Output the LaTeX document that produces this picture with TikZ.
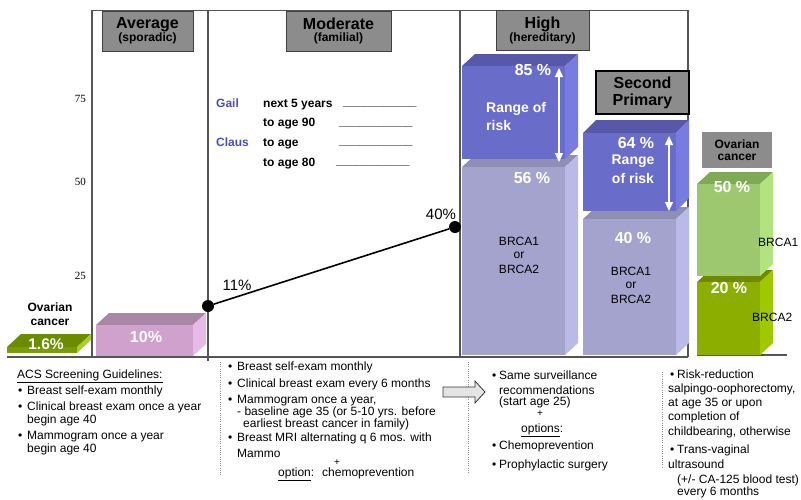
\documentclass[tikz,border=0pt]{standalone}
\usepackage{fontspec}
\setmainfont{Liberation Sans}
\newfontfamily\axisfont{Liberation Serif}
\usetikzlibrary{arrows.meta}
\definecolor{hdrgray}{HTML}{8C8C8C}
\definecolor{framec}{HTML}{555555}
\definecolor{pinkF}{HTML}{CFA1CC}
\definecolor{pinkT}{HTML}{A886A6}
\definecolor{pinkS}{HTML}{E6B9E6}
\definecolor{blueF}{HTML}{6A6CCA}
\definecolor{blueT}{HTML}{5759A8}
\definecolor{blueS}{HTML}{787BE0}
\definecolor{lavF}{HTML}{A3A3CD}
\definecolor{lavT}{HTML}{8F8FB5}
\definecolor{lavS}{HTML}{BABAE8}
\definecolor{lgF}{HTML}{9DC870}
\definecolor{lgT}{HTML}{7EAA55}
\definecolor{lgS}{HTML}{B2E37F}
\definecolor{dgF}{HTML}{8BAE00}
\definecolor{dgT}{HTML}{6D8A00}
\definecolor{dgS}{HTML}{A0C800}
\definecolor{ogF}{HTML}{7A9A08}
\definecolor{ogT}{HTML}{6B8C00}
\definecolor{ogS}{HTML}{A5CF2A}
\definecolor{gailc}{HTML}{4B4FB4}
\definecolor{arrowgray}{HTML}{E4E4E4}
\newcommand\cuboid[9]{%
  \fill[#8] (#1,#2) -- (#3,#2) -- ++(#5,-#6) -- ++({#1-#3},0) -- cycle;
  \fill[#9] (#3,#2) -- ++(#5,-#6) -- ++(0,{#4-#2}) -- (#3,#4) -- cycle;
  \fill[#7] (#1,#2) rectangle (#3,#4);}
\newcommand\bt[4]{\node[btxt] (#1) at (#2,#3) {#4};}
\newcommand\gt[4]{\node[gtxt] (#1) at (#2,#3) {#4};}
\newcommand\blt{\makebox[9pt][l]{•}}
\newcommand\bls{\makebox[7pt][l]{•}}
\begin{document}
\begin{tikzpicture}[x=1pt,y=-1pt,
  frame/.style={draw=framec,line width=1.1pt},
  hdr/.style={draw=black!75,fill=hdrgray,line width=0.8pt,inner sep=0pt,align=center,font=\bfseries},
  wnum/.style={text=white,font=\bfseries\fontsize{16}{16}\selectfont,anchor=base,inner sep=0pt},
  wtxt/.style={text=white,font=\bfseries\fontsize{14}{14}\selectfont,anchor=base west,inner sep=0pt},
  wtxtc/.style={text=white,font=\bfseries\fontsize{14}{14}\selectfont,anchor=base,inner sep=0pt},
  brca/.style={font=\fontsize{12}{13}\selectfont,anchor=base,inner sep=0pt},
  btxt/.style={font=\fontsize{12}{13}\selectfont,anchor=base west,inner sep=0pt},
  gtxt/.style={font=\bfseries\fontsize{12}{13}\selectfont,anchor=base west,inner sep=0pt},
  axl/.style={font=\axisfont\fontsize{11}{11}\selectfont,anchor=base east,inner sep=0pt},
  dot/.style={circle,fill=black,inner sep=0pt,minimum size=12pt},
  wa/.style={draw=white,line width=1.3pt,{Triangle[width=8pt,length=9pt]}-{Triangle[width=8pt,length=9pt]}},
  dotl/.style={draw=black!45,line width=0.7pt,dash pattern=on 1pt off 1.2pt}]
\useasboundingbox (0,0) rectangle (801,499);

% frame
\draw[frame] (92,357) -- (92,10.5) -- (688,10.5) -- (688,357);
\draw[frame] (7,357) -- (688,357);
\draw[frame] (208,10.5) -- (208,361);
\draw[frame] (460,10.5) -- (460,357);
\draw[frame] (697,355) -- (787,355);

% axis labels
\node[axl] (y75) at (86,102) {75};
\node[axl] (y50) at (86,185) {50};
\node[axl] (y25) at (86,279) {25};

% headers
\node[hdr,minimum width=91pt,minimum height=40pt] (hAvg) at (147.5,31)
  {\fontsize{16}{16}\selectfont Average\\\fontsize{12}{14}\selectfont (sporadic)};
\node[hdr,minimum width=105pt,minimum height=40pt] (hMod) at (338.5,31)
  {\fontsize{16}{16}\selectfont Moderate\\\fontsize{12}{14}\selectfont (familial)};

% bars
\cuboid{7}{347}{77}{353}{14}{13}{ogF}{ogT}{ogS}
\cuboid{96}{325}{193}{356}{13}{12}{pinkF}{pinkT}{pinkS}
\cuboid{462}{167}{565}{355}{13}{12}{lavF}{lavT}{lavS}
\cuboid{462}{66}{565}{159}{13}{12}{blueF}{blueT}{blueS}
\cuboid{583}{219}{676}{355}{13}{12}{lavF}{lavT}{lavS}
\cuboid{583}{133}{676}{211}{13}{13}{blueF}{blueT}{blueS}
\cuboid{697}{282}{760}{355}{13}{12}{dgF}{dgT}{dgS}
\cuboid{697}{184}{760}{276}{13}{12}{lgF}{lgT}{lgS}

\node[hdr,minimum width=93pt,minimum height=40pt] (hHigh) at (542.5,30)
  {\fontsize{16}{16}\selectfont High\\\fontsize{12}{13}\selectfont (hereditary)};
\node[hdr,line width=1.2pt,draw=black,minimum width=93pt,minimum height=43pt,
  font=\bfseries\fontsize{16}{17}\selectfont] (hSec) at (642.5,92.5)
  {Second\\Primary};
\node[hdr,draw=none,minimum width=70pt,minimum height=36pt,
  font=\bfseries\fontsize{12}{12.5}\selectfont] (hOv) at (737,150)
  {Ovarian\\cancer};

% left ovarian label
\node[font=\bfseries\fontsize{12}{13}\selectfont,anchor=base,inner sep=0pt] (ovl1) at (50,311.5) {Ovarian};
\node[font=\bfseries\fontsize{12}{13}\selectfont,anchor=base,inner sep=0pt] (ovl2) at (50,325) {cancer};

% numbers in bars
\node[wnum,font=\bfseries\fontsize{15.5}{16}\selectfont] (n16) at (46,349) {1.6\%};
\node[wnum] (n10) at (146,342) {10\%};
\node[wnum] (n85) at (533,75) {85 \%};
\node[wnum] (n56) at (532,183) {56 \%};
\node[wnum] (n64) at (636,148) {64 \%};
\node[wnum] (n40b) at (633,243) {40 \%};
\node[wnum] (n50) at (732,192) {50 \%};
\node[wnum] (n20) at (729,293) {20 \%};
\node[wtxt] (rr1) at (486,112.5) {Range of};
\node[wtxt] (rr2) at (486,130) {risk};
\node[wtxtc] (rs1) at (633,164) {Range};
\node[wtxtc] (rs2) at (633,183) {of risk};

% white arrows
\coordinate (a1t) at (559,68);
\coordinate (a1b) at (559,162);
\coordinate (a2t) at (669,136);
\coordinate (a2b) at (669,211);
\draw[wa] (a1t) -- (a1b);
\draw[wa] (a2t) -- (a2b);

% BRCA labels
\node[brca] (hb1) at (519,245) {BRCA1};
\node[brca] (hb2) at (519,258) {or};
\node[brca] (hb3) at (519,273) {BRCA2};
\node[brca] (sb1) at (631,275) {BRCA1};
\node[brca] (sb2) at (631,288) {or};
\node[brca] (sb3) at (631,303) {BRCA2};
\node[btxt] (gb1) at (758,246) {BRCA1};
\node[btxt] (gb2) at (752,321) {BRCA2};

% risk line
\node[dot] (p11) at (208,306) {};
\node[dot] (p40) at (455,227) {};
\draw[line width=1.6pt] (p11) -- (p40);
\node[font=\fontsize{15}{15}\selectfont,inner sep=0pt] (l11) at (237,285) {11\%};
\node[font=\fontsize{15}{15}\selectfont,inner sep=0pt] (l40) at (441,214) {40\%};

% Gail / Claus
\node[gtxt,text=gailc] (gail) at (216,107) {Gail};
\node[gtxt,text=gailc] (claus) at (216,146) {Claus};
\gt{g1}{263}{107}{next 5 years}
\gt{g2}{263}{126}{to age 90}
\gt{g3}{263}{146}{to age}
\gt{g4}{263}{166}{to age 80}
\gt{u1}{343}{105.5}{\_\_\_\_\_\_\_\_\_\_\_}
\gt{u2}{339}{125}{\_\_\_\_\_\_\_\_\_\_\_}
\gt{u3}{339}{144.5}{\_\_\_\_\_\_\_\_\_\_\_}
\gt{u4}{336}{164.5}{\_\_\_\_\_\_\_\_\_\_\_}

% dotted separators
\coordinate (d1t) at (220,362); \coordinate (d1b) at (220,475);
\coordinate (d2t) at (468,362); \coordinate (d2b) at (468,474);
\coordinate (d3t) at (662,372); \coordinate (d3b) at (662,467);
\draw[dotl] (d1t) -- (d1b);
\draw[dotl] (d2t) -- (d2b);
\draw[dotl] (d3t) -- (d3b);

% big arrow
\draw[draw=black!80,fill=arrowgray,line width=0.8pt]
  (443,387) -- (475,387) -- (475,381) -- (485,392) -- (475,403) -- (475,397) -- (443,397) -- cycle;

% left block
\bt{t1}{17}{378}{\underline{ACS Screening Guidelines:}}
\bt{t2}{18}{394}{\blt Breast self-exam monthly}
\bt{t3}{18}{410}{\blt Clinical breast exam once a year}
\bt{t4}{27}{423}{begin age 40}
\bt{t5}{18}{439}{\blt Mammogram once a year}
\bt{t6}{27}{452}{begin age 40}

% middle block
\bt{m1}{228}{370}{\blt Breast self-exam monthly}
\bt{m2}{228}{387}{\blt Clinical breast exam every 6 months}
\bt{m3}{228}{403}{\blt Mammogram once a year,}
\bt{m4}{237}{415}{- baseline age 35 (or 5-10 yrs. before}
\bt{m5}{243}{427}{earliest breast cancer in family)}
\bt{m6}{228}{441}{\blt Breast MRI alternating q 6 mos. with}
\bt{m7}{237}{457}{Mammo}
\node[font=\fontsize{10}{10}\selectfont,inner sep=0pt] (mplus) at (337,463) {+};
\bt{m8}{278}{476}{\underline{option}:\hspace{8pt}chemoprevention}

% right-middle block
\bt{r1}{492}{379}{\bls Same surveillance}
\bt{r2}{499}{394}{recommendations}
\bt{r3}{499}{405}{(start age 25)}
\node[font=\fontsize{10}{10}\selectfont,inner sep=0pt] (rplus) at (540,414) {+};
\bt{r4}{521}{432}{\underline{options}:}
\bt{r5}{492}{449}{\bls Chemoprevention}
\bt{r6}{492}{468}{\bls Prophylactic surgery}

% right block
\bt{o1}{670}{378}{\bls Risk-reduction}
\bt{o2}{668}{392}{salpingo-oophorectomy,}
\bt{o3}{668}{406}{at age 35 or upon}
\bt{o4}{668}{420}{completion of}
\bt{o5}{668}{435}{childbearing, otherwise}
\bt{o6}{670}{453}{\bls Trans-vaginal}
\bt{o7}{668}{468}{ultrasound}
\bt{o8}{677}{483}{(+/- CA-125 blood test)}
\bt{o9}{677}{495}{every 6 months}
\end{tikzpicture}
\end{document}
